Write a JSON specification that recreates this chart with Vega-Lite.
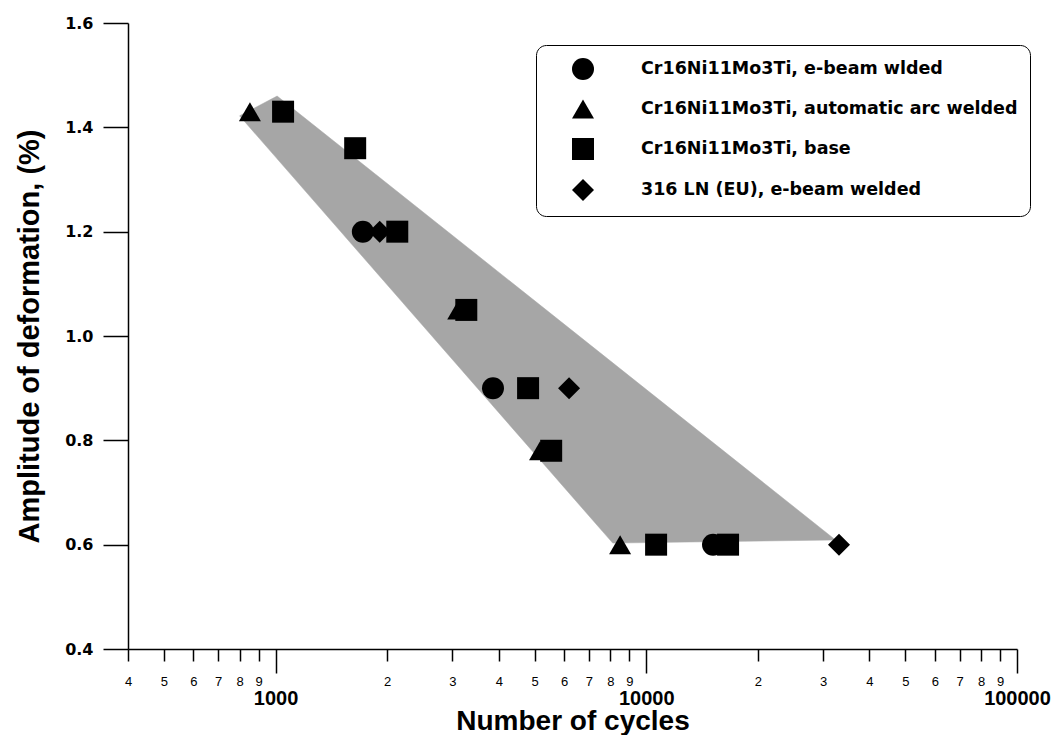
{
  "$schema": "https://vega.github.io/schema/vega-lite/v6.json",
  "width": 889,
  "height": 626,
  "autosize": {"type": "none"},
  "padding": {"left": 128, "top": 23, "right": 39, "bottom": 86},
  "background": "white",
  "config": {
    "view": {"stroke": null},
    "axis": {"domainColor": "black", "domainWidth": 1.5, "tickColor": "black", "tickWidth": 1.5, "labelColor": "black", "titleColor": "black", "grid": false}
  },
  "datasets": {
    "band": [
      {"cycles": 800, "amp": 1.422},
      {"cycles": 1010, "amp": 1.46},
      {"cycles": 32400, "amp": 0.609},
      {"cycles": 8120, "amp": 0.603}
    ],
    "points": [
      {"series": "Cr16Ni11Mo3Ti, automatic arc welded", "cycles": 853, "amp": 1.43},
      {"series": "Cr16Ni11Mo3Ti, base", "cycles": 1048, "amp": 1.43},
      {"series": "Cr16Ni11Mo3Ti, base", "cycles": 1640, "amp": 1.36},
      {"series": "Cr16Ni11Mo3Ti, e-beam wlded", "cycles": 1720, "amp": 1.2},
      {"series": "316 LN (EU), e-beam welded", "cycles": 1910, "amp": 1.2},
      {"series": "Cr16Ni11Mo3Ti, base", "cycles": 2130, "amp": 1.2},
      {"series": "Cr16Ni11Mo3Ti, automatic arc welded", "cycles": 3110, "amp": 1.05},
      {"series": "Cr16Ni11Mo3Ti, base", "cycles": 3270, "amp": 1.05},
      {"series": "Cr16Ni11Mo3Ti, e-beam wlded", "cycles": 3860, "amp": 0.9},
      {"series": "Cr16Ni11Mo3Ti, base", "cycles": 4800, "amp": 0.9},
      {"series": "316 LN (EU), e-beam welded", "cycles": 6190, "amp": 0.9},
      {"series": "Cr16Ni11Mo3Ti, automatic arc welded", "cycles": 5170, "amp": 0.78},
      {"series": "Cr16Ni11Mo3Ti, base", "cycles": 5540, "amp": 0.78},
      {"series": "Cr16Ni11Mo3Ti, automatic arc welded", "cycles": 8500, "amp": 0.6},
      {"series": "Cr16Ni11Mo3Ti, base", "cycles": 10630, "amp": 0.6},
      {"series": "Cr16Ni11Mo3Ti, e-beam wlded", "cycles": 15140, "amp": 0.6},
      {"series": "Cr16Ni11Mo3Ti, base", "cycles": 16620, "amp": 0.6},
      {"series": "316 LN (EU), e-beam welded", "cycles": 33100, "amp": 0.6}
    ]
  },
  "encoding": {
    "y": {
      "field": "amp",
      "type": "quantitative",
      "scale": {"domain": [0.4, 1.6], "nice": false, "zero": false},
      "axis": {
        "values": [0.4, 0.6, 0.8, 1.0, 1.2, 1.4, 1.6],
        "format": ".1f",
        "tickSize": 25,
        "labelPadding": 10,
        "labelFont": "DejaVu Sans",
        "labelFontWeight": "bold",
        "labelFontSize": 16,
        "title": "Amplitude of deformation, (%)",
        "titleFont": "Liberation Sans",
        "titleFontWeight": "bold",
        "titleFontSize": 29,
        "titlePadding": 20
      }
    }
  },
  "layer": [
    {
      "data": {"name": "band"},
      "mark": {"type": "line", "interpolate": "linear-closed", "fill": "#a6a6a6", "stroke": "#a6a6a6", "strokeWidth": 0.5},
      "encoding": {
        "x": {
          "field": "cycles",
          "type": "quantitative",
          "scale": {"type": "log", "domain": [400, 100000], "nice": false},
          "axis": {
            "orient": "bottom",
            "values": [1000, 10000, 100000],
            "format": "d",
            "tickSize": 24,
            "labelPadding": 15,
            "labelFont": "Liberation Sans",
            "labelFontWeight": "bold",
            "labelFontSize": 20,
            "labelFlush": false,
            "labelOverlap": false,
            "title": "Number of cycles",
            "titleFont": "Liberation Sans",
            "titleFontWeight": "bold",
            "titleFontSize": 28,
            "titlePadding": -1
          }
        },
        "order": {"value": null}
      }
    },
    {
      "data": {"name": "points"},
      "mark": {"type": "point", "filled": true, "color": "black", "opacity": 1, "size": 484},
      "encoding": {
        "x": {
          "field": "cycles",
          "type": "quantitative",
          "scale": {"type": "log", "domain": [400, 100000], "nice": false},
          "axis": {
            "orient": "bottom",
            "values": [400, 500, 600, 700, 800, 900, 2000, 3000, 4000, 5000, 6000, 7000, 8000, 9000, 20000, 30000, 40000, 50000, 60000, 70000, 80000, 90000],
            "labelExpr": "format(datum.value / pow(10, floor(log(datum.value) / LN10 + 1e-9)), 'd')",
            "tickSize": 12,
            "labelPadding": 14,
            "labelFont": "Liberation Sans",
            "labelFontSize": 13,
            "labelFlush": false,
            "labelOverlap": false,
            "domain": false,
            "title": null
          }
        },
        "shape": {
          "field": "series",
          "type": "nominal",
          "scale": {
            "domain": ["Cr16Ni11Mo3Ti, e-beam wlded", "Cr16Ni11Mo3Ti, automatic arc welded", "Cr16Ni11Mo3Ti, base", "316 LN (EU), e-beam welded"],
            "range": ["circle", "triangle-up", "square", "diamond"]
          },
          "legend": {
            "title": null,
            "orient": "none",
            "legendX": 408,
            "legendY": 22,
            "strokeColor": "black",
            "cornerRadius": 10,
            "fillColor": "white",
            "padding": 12,
            "symbolOffset": 23,
            "labelOffset": 46,
            "rowPadding": 13,
            "symbolSize": 484,
            "symbolFillColor": "black",
            "labelFont": "DejaVu Sans",
            "labelFontWeight": "bold",
            "labelFontSize": 17.5,
            "labelColor": "black",
            "labelLimit": 0
          }
        }
      }
    }
  ],
  "resolve": {"axis": {"x": "independent"}}
}
